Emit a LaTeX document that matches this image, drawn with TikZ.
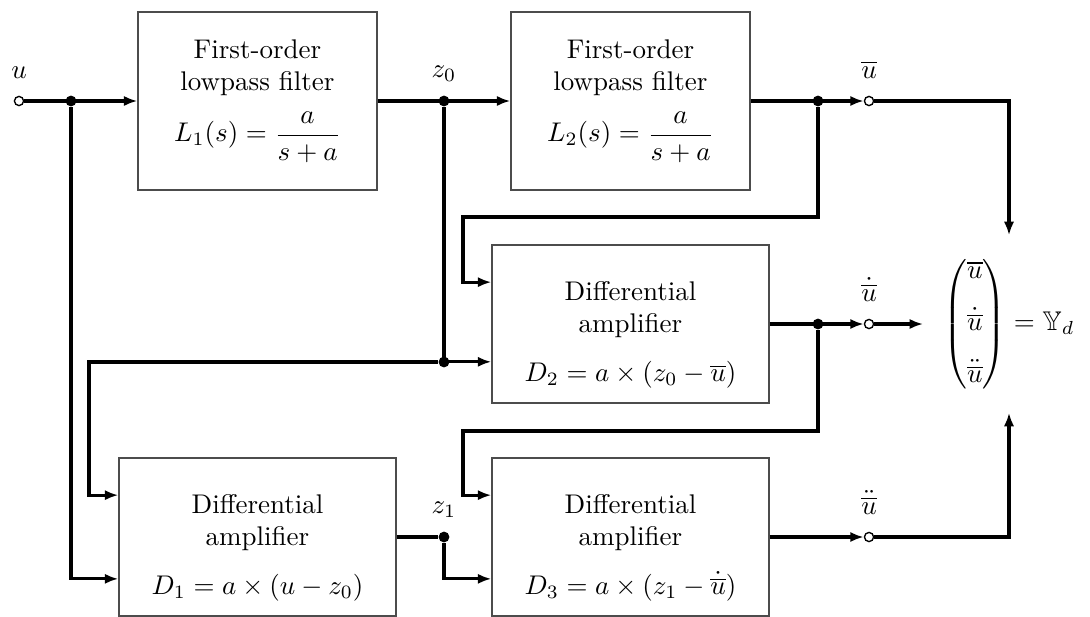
\documentclass[tikz,border=0pt]{standalone}
\usepackage{amsmath,amssymb}
\usetikzlibrary{arrows.meta}
\tikzset{
	blk/.style = {draw = black!70, line width = 0.5pt, inner sep = 0pt, align = center},
	lpblk/.style = {blk, minimum width = 88.5pt, minimum height = 65.9pt},
	dablk/.style = {blk, minimum width = 102.6pt, minimum height = 58.5pt},
	sig/.style = {line width = 1.2pt},
	dot/.style = {circle, fill, inner sep = 0pt, minimum size = 4pt},
	port/.style = {circle, draw, fill = white, line width = 0.5pt, inner sep = 0pt, minimum size = 3.4pt},
	lab/.style = {label distance = 3pt},
	dotlab/.style = {label distance = 1.5pt}
}
\begin{document}
\begin{tikzpicture}[x = 0.37037pt, y = -0.37037pt, > = {Latex[length = 5pt, width = 3.8pt]}]
	\useasboundingbox (0,0) rectangle (1090,616);
	% blocks
	\node [lpblk] (lp1) at (257.5,101) {First-order\\ lowpass filter\\[5pt] $L_1(s) = \dfrac{a}{s+a}$};
	\node [lpblk] (lp2) at (630.5,101) {First-order\\ lowpass filter\\[5pt] $L_2(s) = \dfrac{a}{s+a}$};
	\node [dablk] (da2) at (630.5,324) {};
	\node [dablk] (da1) at (257.5,537) {};
	\node [dablk] (da3) at (630.5,537) {};
	\node [align = center] (da2txt) at ([yshift = -4pt]da2.center) {Differential\\ amplifier\\[6pt] $D_2 = a \times (z_0 - \overline{u})$};
	\node [align = center] (da1txt) at ([yshift = -4pt]da1.center) {Differential\\ amplifier\\[6pt] $D_1 = a \times (u - z_0)$};
	\node [align = center] (da3txt) at ([yshift = -4pt]da3.center) {Differential\\ amplifier\\[6pt] $D_3 = a \times (z_1 - \dot{\overline{u}})$};
	% ports and junctions
	\node [port, label = {[lab]above:$u$}] (uin) at (19,101) {};
	\node [port, label = {[lab]above:$\overline{u}$}] (ubar) at (869,101) {};
	\node [port, label = {[lab]above:$\dot{\overline{u}}$}] (udot) at (869,324) {};
	\node [port, label = {[lab]above:$\ddot{\overline{u}}$}] (uddot) at (869,537) {};
	\node [dot] (j1) at (71,101) {};
	\node [dot, label = {[dotlab]above:$z_0$}] (z0) at (444,101) {};
	\node [dot] (jz) at (444,362) {};
	\node [dot] (jb) at (818,101) {};
	\node [dot] (jc) at (818,324) {};
	\node [dot, label = {[dotlab]above:$z_1$}] (z1) at (444,537) {};
	\coordinate (fb1) at (463,217);
	\coordinate (fb2) at (89,362);
	\coordinate (fb3) at (463,431);
	\node [inner sep = 7.4pt] (yd) at (1009,324) {$\begin{pmatrix} \overline{u}\\[7pt] \dot{\overline{u}}\\[7pt] \ddot{\overline{u}} \end{pmatrix} = \mathbb{Y}_d$};
	% signals
	\draw [sig,->] (uin) -- (lp1);
	\draw [sig,->] (lp1) -- (lp2);
	\draw [sig,->] (lp2) -- (ubar);
	\draw [sig,->] (ubar) -| (yd.north);
	\draw [sig,->] (jb) |- (fb1) |- ([yshift = 15.5pt]da2.west);
	\draw [sig,->] (z0) |- ([yshift = -14pt]da2.west);
	\draw [sig,->] (jz) -- (fb2) |- ([yshift = 15.5pt]da1.west);
	\draw [sig,->] (j1) |- ([yshift = -15.5pt]da1.west);
	\draw [sig,->] (da2) -- (udot);
	\draw [sig,->] (udot) -- (yd);
	\draw [sig,->] (jc) |- (fb3) |- ([yshift = 15.5pt]da3.west);
	\draw [sig] (da1) -- (z1);
	\draw [sig,->] (z1) |- ([yshift = -15.5pt]da3.west);
	\draw [sig,->] (da3) -- (uddot);
	\draw [sig,->] (uddot) -| (yd.south);
\end{tikzpicture}
\end{document}
